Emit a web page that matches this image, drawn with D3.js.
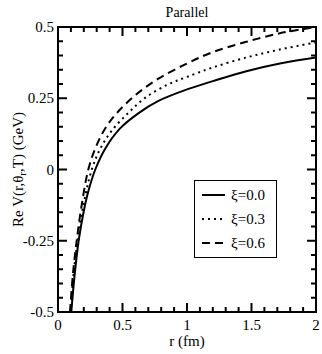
<!DOCTYPE html>
<html>
<head>
<meta charset="utf-8">
<script src="https://cdn.jsdelivr.net/npm/d3@7"></script>
<style>
  body { margin: 0; background: #fff; }
</style>
</head>
<body>
<div id="chart"></div>
<script>
// Values
const rSolid = [0.103, 0.129, 0.16, 0.199, 0.233, 0.289, 0.367, 0.483, 0.625, 0.775, 1.0, 1.2, 1.46, 1.72, 2.0];
const vSolid = [-0.5, -0.37, -0.25, -0.148, -0.08, 0.0, 0.074, 0.145, 0.198, 0.24, 0.281, 0.31, 0.345, 0.372, 0.393];

const rDotted = [0.098, 0.12, 0.152, 0.19, 0.262, 0.33, 0.42, 0.548, 0.677, 0.85, 1.0, 1.2, 1.46, 1.72, 2.0];
const vDotted = [-0.5, -0.37, -0.25, -0.14, 0.0, 0.075, 0.138, 0.2, 0.252, 0.298, 0.325, 0.358, 0.393, 0.421, 0.446];

const rDashed = [0.093, 0.115, 0.145, 0.18, 0.235, 0.29, 0.367, 0.46, 0.6, 0.775, 1.0, 1.2, 1.46, 1.72, 1.93, 2.0];
const vDashed = [-0.5, -0.37, -0.25, -0.135, 0.0, 0.075, 0.145, 0.2, 0.261, 0.318, 0.372, 0.412, 0.448, 0.478, 0.495, 0.5];

const xTicks = [0, 0.5, 1, 1.5, 2];
const xTickLabels = ['0', '0.5', '1', '1.5', '2'];
const yTicks = [-0.5, -0.25, 0, 0.25, 0.5];
const yTickLabels = ['-0.5', '-0.25', '0', '0.25', '0.5'];
const seriesNames = ['ξ=0.0', 'ξ=0.3', 'ξ=0.6'];

const width = 322;
const height = 354;
const margin = { top: 27, right: 6, bottom: 42, left: 58 };
const serif = "'Liberation Serif', 'Times New Roman', 'Nimbus Roman', 'Noto Serif', 'DejaVu Serif', FreeSerif, serif";

const svg = d3
  .select('#chart')
  .append('svg')
  .attr('width', width)
  .attr('height', height);

const x = d3.scaleLinear().domain([0, 2]).range([margin.left, width - margin.right]);
const y = d3.scaleLinear().domain([-0.5, 0.5]).range([height - margin.bottom, margin.top]);

const x0 = x.range()[0], x1 = x.range()[1];
const y0 = y.range()[0], y1 = y.range()[1];

svg.append('defs').append('clipPath').attr('id', 'clip')
  .append('rect')
  .attr('x', x0).attr('y', y1)
  .attr('width', x1 - x0).attr('height', y0 - y1);

// Curves
const series = [
  { r: rSolid, v: vSolid, dash: null },
  { r: rDotted, v: vDotted, dash: '2,4' },
  { r: rDashed, v: vDashed, dash: '8,5' },
];

const line = d3.line()
  .x((d) => x(d[0]))
  .y((d) => y(d[1]))
  .curve(d3.curveCatmullRom.alpha(0.5));

svg.append('g').attr('clip-path', 'url(#clip)')
  .selectAll('path')
  .data(series)
  .join('path')
  .attr('d', (s) => line(s.r.map((r, i) => [r, s.v[i]])))
  .attr('fill', 'none')
  .attr('stroke', '#000')
  .attr('stroke-width', 2)
  .attr('stroke-dasharray', (s) => s.dash);

// Ticks on all four sides, pointing inward
const ticks = svg.append('g').attr('stroke', '#000').attr('stroke-width', 2);
const xMinor = d3.range(0, 2.0001, 0.1);
const yMinor = d3.range(-0.5, 0.5001, 0.05);

xMinor.forEach((t) => {
  const major = xTicks.some((m) => Math.abs(m - t) < 1e-6);
  const len = major ? 9 : 5;
  ticks.append('line').attr('x1', x(t)).attr('x2', x(t)).attr('y1', y0).attr('y2', y0 - len);
  ticks.append('line').attr('x1', x(t)).attr('x2', x(t)).attr('y1', y1).attr('y2', y1 + len);
});
yMinor.forEach((t) => {
  const major = yTicks.some((m) => Math.abs(m - t) < 1e-6);
  const len = major ? 9 : 5;
  ticks.append('line').attr('y1', y(t)).attr('y2', y(t)).attr('x1', x0).attr('x2', x0 + len);
  ticks.append('line').attr('y1', y(t)).attr('y2', y(t)).attr('x1', x1).attr('x2', x1 - len);
});

// Frame
svg.append('rect')
  .attr('x', x0).attr('y', y1)
  .attr('width', x1 - x0).attr('height', y0 - y1)
  .attr('fill', 'none').attr('stroke', '#000').attr('stroke-width', 2);

// Tick labels
svg.append('g').selectAll('text')
  .data(xTicks)
  .join('text')
  .attr('x', (d) => x(d))
  .attr('y', y0 + 18)
  .attr('text-anchor', 'middle')
  .attr('font-family', serif)
  .attr('font-size', 15)
  .text((d, i) => xTickLabels[i]);

svg.append('g').selectAll('text')
  .data(yTicks)
  .join('text')
  .attr('x', x0 - 4)
  .attr('y', (d) => y(d) + 5)
  .attr('text-anchor', 'end')
  .attr('font-family', serif)
  .attr('font-size', 15)
  .text((d, i) => yTickLabels[i]);

// Titles
svg.append('text')
  .attr('x', (x0 + x1) / 2)
  .attr('y', 17)
  .attr('text-anchor', 'middle')
  .attr('font-family', serif)
  .attr('font-size', 14)
  .text('Parallel');

svg.append('text')
  .attr('x', (x0 + x1) / 2)
  .attr('y', 346)
  .attr('text-anchor', 'middle')
  .attr('font-family', serif)
  .attr('font-size', 15)
  .text('r (fm)');

const yl = svg.append('text')
  .attr('transform', `translate(23, ${(y0 + y1) / 2}) rotate(-90)`)
  .attr('text-anchor', 'middle')
  .attr('font-family', serif)
  .attr('font-size', 15);
yl.append('tspan').text('Re V(r,θ');
yl.append('tspan').attr('dy', 3).attr('font-size', 11).text('r');
yl.append('tspan').attr('dy', -3).text(',T) (GeV)');

// Legend
const legend = svg.append('g');
legend.append('rect')
  .attr('x', 194.5).attr('y', 180.5)
  .attr('width', 82).attr('height', 77)
  .attr('fill', '#fff').attr('stroke', '#000').attr('stroke-width', 1);

const rows = legend.selectAll('g.row')
  .data(series)
  .join('g')
  .attr('class', 'row')
  .attr('transform', (d, i) => `translate(0, ${[195, 219, 243][i]})`);

rows.append('line')
  .attr('x1', 202).attr('x2', 225)
  .attr('stroke', '#000').attr('stroke-width', 2)
  .attr('stroke-dasharray', (s) => s.dash);

rows.append('text')
  .attr('x', 231).attr('y', 5)
  .attr('font-family', serif)
  .attr('font-size', 15)
  .text((d, i) => seriesNames[i]);
</script>
</body>
</html>
